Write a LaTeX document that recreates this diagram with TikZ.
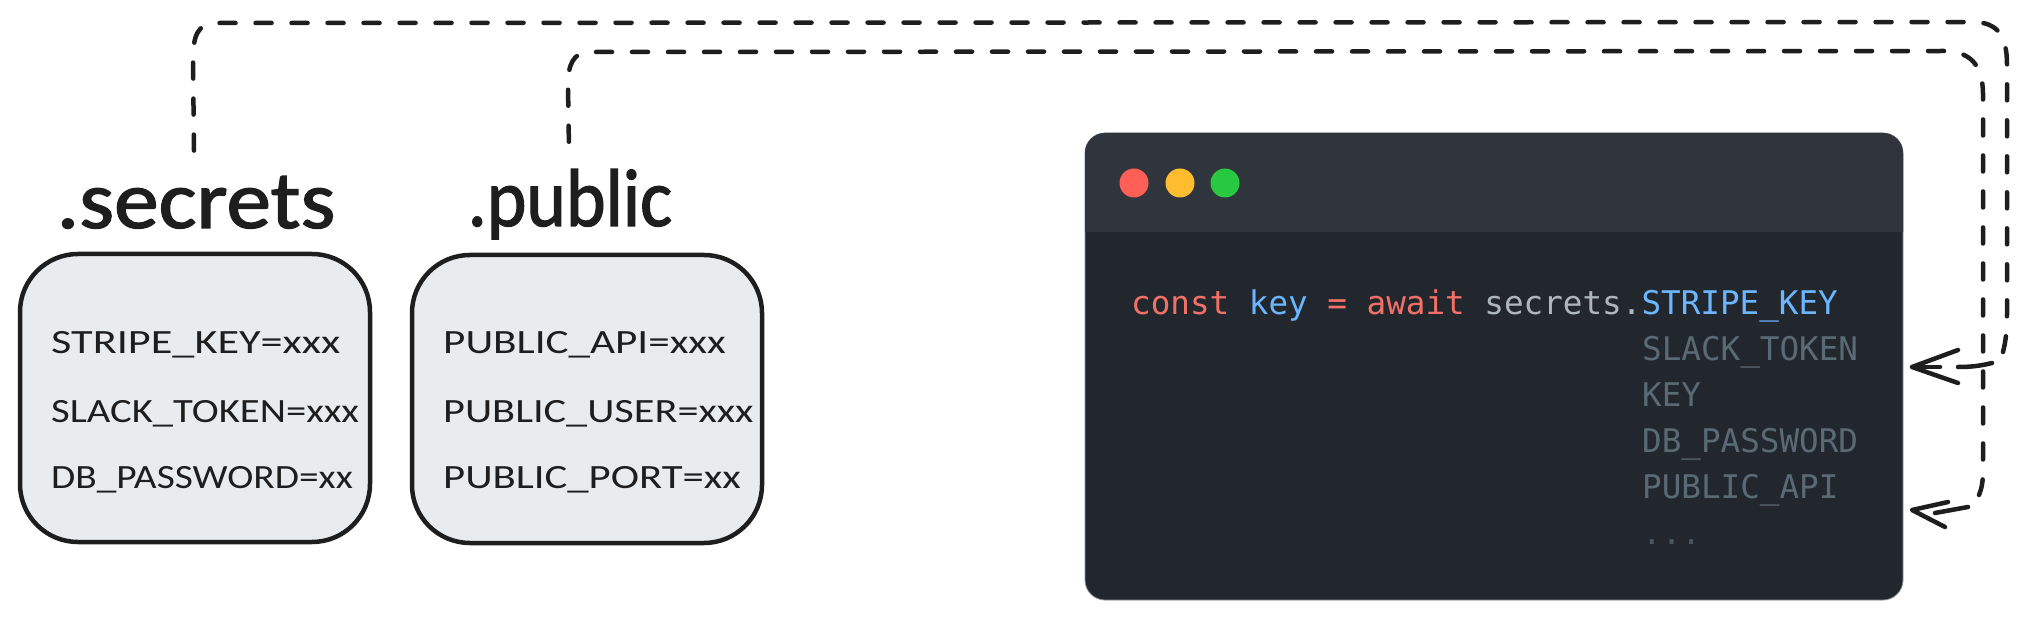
\documentclass[tikz,border=0pt]{standalone}
\usepackage{fontspec}
\setmainfont{Carlito}
\newfontfamily\sketchfont[FakeStretch=1.22]{Carlito}
\newfontfamily\titlefont[FakeBold=1.6]{Carlito}
\newfontfamily\codefont{DejaVu Sans Mono}
\newcommand{\widen}[2]{\scalebox{#1}[1]{#2}}
\definecolor{sketchink}{HTML}{1E1E1E}
\definecolor{boxfill}{HTML}{E9ECEF}
\definecolor{winbody}{HTML}{22272E}
\definecolor{winbar}{HTML}{30343C}
\definecolor{winedge}{HTML}{8A9096}
\definecolor{dotred}{HTML}{FF5F57}
\definecolor{dotyellow}{HTML}{FEBC2E}
\definecolor{dotgreen}{HTML}{28C840}
\definecolor{codered}{HTML}{F47067}
\definecolor{codeblue}{HTML}{6CB6FF}
\definecolor{codeplain}{HTML}{ADB5BD}
\definecolor{codedim}{HTML}{5A6A74}
\tikzset{
  envbox/.style={draw=sketchink, fill=boxfill, line width=4.5pt, rounded corners=58pt, minimum width=350pt, minimum height=288pt, inner sep=0pt},
  envtitle/.style={anchor=base, inner sep=0pt, text=sketchink, font=\titlefont\fontsize{82}{86}\selectfont},
  envline/.style={anchor=base west, inner sep=0pt, text=sketchink, font=\sketchfont\fontsize{34}{36}\selectfont},
  codeline/.style={anchor=base west, inner sep=0pt, font=\codefont\fontsize{32.6}{36}\selectfont},
  windot/.style={circle, minimum size=29pt, inner sep=0pt},
  linkline/.style={draw=sketchink, line width=4.5pt, line cap=round, dash pattern=on 16pt off 20pt},
  headline/.style={draw=sketchink, line width=4.5pt, line cap=round, line join=round}
}
\begin{document}
\begin{tikzpicture}[x=1pt,y=-1pt]
\useasboundingbox (0,0) rectangle (2026,620);
\fill [white] (0,0) rectangle (2026,620);

% the two env files
\node [envbox] (secretsbox) at (195,398){};
\node [envbox] (publicbox) at (587,399){};

\node [envtitle] (secretstitle) at (196,228){\widen{1.09}{.secrets}};
\node [envtitle] (publictitle) at (570,226){\widen{0.92}{.public}};

\node [envline] (stripeline) at (51,353){\widen{1.067}{STRIPE\_KEY=xxx}};
\node [envline] (slackline) at (51,422){\widen{0.98}{SLACK\_TOKEN=xxx}};
\node [envline] (dbline) at (51,488){\widen{0.95}{DB\_PASSWORD=xx}};

\node [envline] (apiline) at (443,353){\widen{1.04}{PUBLIC\_API=xxx}};
\node [envline] (userline) at (443,422){\widen{1.02}{PUBLIC\_USER=xxx}};
\node [envline] (portline) at (443,488){\widen{1.03}{PUBLIC\_PORT=xx}};

% code window
\node [draw=winedge, line width=0.8pt, fill=winbody, rounded corners=20pt, minimum width=818pt, minimum height=467pt, inner sep=0pt] (window) at (1494,366.5){};
\fill [winbar] (1085,232) -- (1085,153) .. controls (1085,142) and (1094,133) .. (1105,133) -- (1883,133) .. controls (1894,133) and (1903,142) .. (1903,153) -- (1903,232) -- cycle;

\node [windot, fill=dotred] (reddot) at (1134,183){};
\node [windot, fill=dotyellow] (yellowdot) at (1180,183){};
\node [windot, fill=dotgreen] (greendot) at (1225,183){};

\node [codeline] (codetext) at (1131,314){\textcolor{codered}{const} \textcolor{codeblue}{key} \textcolor{codered}{= await} \textcolor{codeplain}{secrets.}\textcolor{codeblue}{STRIPE\_KEY}};
\node [codeline, text=codedim] (slackitem) at (1642,360){SLACK\_TOKEN};
\node [codeline, text=codedim] (keyitem) at (1642,406){KEY};
\node [codeline, text=codedim] (dbitem) at (1642,452){DB\_PASSWORD};
\node [codeline, text=codedim] (apiitem) at (1642,498){PUBLIC\_API};
\node [codeline, text=codedim!70!winbody] (moreitem) at (1642,544){...};

% dashed links
\coordinate (secretsout) at (194,151);
\coordinate (publicout) at (569,151);
\coordinate (slackend) at (2003,352);
\coordinate (publicend) at (1979,495);
\coordinate (slacktip) at (1912,367);
\coordinate (publictip) at (1912,510);

\draw [linkline] (slackend) .. controls (2006,340) and (2007,330) .. (2007,310) -- (2007,65) .. controls (2007,35) and (1997,23) .. (1975,22) -- (215,23) .. controls (198,24) and (193,35) .. (193,60) -- (secretsout);
\draw [linkline] (publicend) .. controls (1982,488) and (1983,480) .. (1983,470) -- (1983,95) .. controls (1983,62) and (1968,52) .. (1945,51) -- (590,52) .. controls (573,52) and (568,65) .. (568,85) -- (publicout);

% arrow heads
\draw [headline] (1992,363) .. controls (1980,366) and (1970,367) .. (1958,367);
\draw [headline] (1958,350) -- (slacktip) -- (1958,383);
\draw [headline] (1940,367) -- (slacktip);
\draw [headline] (1968,507) -- (1935,513);
\draw [headline] (1948,502) -- (publictip) -- (1945,527);
\end{tikzpicture}
\end{document}
